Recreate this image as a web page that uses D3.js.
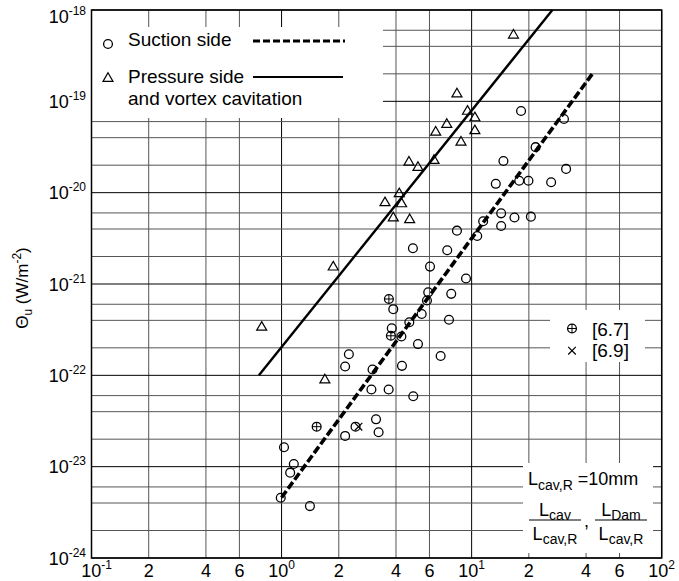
<!DOCTYPE html>
<html><head><meta charset="utf-8">
<script src="https://cdn.jsdelivr.net/npm/d3@7"></script>
<style>body{margin:0;background:#fff} svg{display:block;font-family:"Liberation Sans",Arial,sans-serif}</style>
</head><body><svg id="c" width="679" height="581"></svg>
<script>
// ---- data ----
const suctionX = [0.99,1.03,1.16,1.11,1.41,2.16,2.45,3.14,3.24,2.26,2.16,3.01,2.97,3.66,4.93,3.87,3.80,4.27,4.70,5.46,5.82,5.91,7.81,7.60,5.22,6.87,4.30,6.04,4.91,7.44,8.37,9.34,10.7,11.5,14.3,14.3,16.8,20.5,13.4,17.8,19.9,26.2,14.7,21.7,31.4,18.2,30.6];
const suctionY = [4.57e-24,1.63e-23,1.07e-23,8.6e-24,3.7e-24,2.17e-23,2.74e-23,3.3e-23,2.38e-23,1.7e-22,1.25e-22,1.16e-22,7.0e-23,7.0e-23,5.9e-23,5.3e-22,3.27e-22,2.66e-22,3.81e-22,4.69e-22,6.6e-22,8.1e-22,7.8e-22,4.06e-22,2.2e-22,1.63e-22,1.27e-22,1.55e-21,2.46e-21,2.34e-21,3.84e-21,1.15e-21,3.35e-21,4.86e-21,4.32e-21,5.94e-21,5.35e-21,5.46e-21,1.25e-20,1.35e-20,1.35e-20,1.30e-20,2.22e-20,3.15e-20,1.82e-20,7.84e-20,6.41e-20];
const pressureX = [0.786,1.69,1.87,3.50,3.87,4.16,4.28,4.72,4.68,5.22,6.34,6.47,7.40,8.37,8.79,9.51,10.4,10.4,16.6];
const pressureY = [3.4e-22,9.0e-23,1.55e-21,7.84e-21,5.35e-21,9.84e-21,7.64e-21,5.12e-21,2.18e-20,1.91e-20,2.28e-20,4.65e-20,5.65e-20,1.22e-19,3.61e-20,7.87e-20,6.68e-20,4.82e-20,5.37e-19];
const ref67X = [1.53,3.67,3.76];
const ref67Y = [2.74e-23,6.85e-22,2.71e-22];
const ref69X = [2.54];
const ref69Y = [2.74e-23];
const suctionFitX = [1.0,43.4];
const suctionFitY = [4.6e-24,2.03e-19];
const pressureFitX = [0.76,26.6];
const pressureFitY = [1e-22,1e-18];
const xTickVals = [0.1,0.2,0.4,0.6,1,2,4,6,10,20,40,60,100];
const xTickBase = ["10","2","4","6","10","2","4","6","10","2","4","6","10"];
const xTickExp  = ["-1","","","","0","","","","1","","","","2"];
const yTickVals = [1e-24,1e-23,1e-22,1e-21,1e-20,1e-19,1e-18];
const yTickExp  = ["-24","-23","-22","-21","-20","-19","-18"];
const gridMult = [2,4,6];

// ---- setup ----
const svg = d3.select('#c');
const x = d3.scaleLog().domain([0.1,100]).range([91.5,661.7]);
const y = d3.scaleLog().domain([1e-24,1e-18]).range([558,10]);
const [x0,x1] = x.range(), [y0,y1] = [y.range()[1], y.range()[0]];

// grid
const g = svg.append('g');
const xMajor = xTickVals.filter((d,i)=>xTickExp[i]!=="");
xMajor.slice(0,-1).forEach(dec=>{
  gridMult.forEach(m=>{
    g.append('line').attr('x1',x(dec*m)).attr('x2',x(dec*m)).attr('y1',y0).attr('y2',y1).attr('stroke','#555').attr('stroke-width',1);
  });
});
xMajor.forEach(v=>g.append('line').attr('x1',x(v)).attr('x2',x(v)).attr('y1',y0).attr('y2',y1).attr('stroke','#000').attr('stroke-width',1));
yTickVals.slice(0,-1).forEach(dec=>{
  gridMult.forEach(m=>{
    g.append('line').attr('y1',y(dec*m)).attr('y2',y(dec*m)).attr('x1',x0).attr('x2',x1).attr('stroke','#555').attr('stroke-width',1);
  });
});
yTickVals.forEach(v=>g.append('line').attr('y1',y(v)).attr('y2',y(v)).attr('x1',x0).attr('x2',x1).attr('stroke','#000').attr('stroke-width',1));

// white legend boxes
[[91.5,27,291.5,91],[550,310,95,52],[523,463,130,90]].forEach(b=>{
  svg.append('rect').attr('x',b[0]).attr('y',b[1]).attr('width',b[2]).attr('height',b[3]).attr('fill','#fff');
});

// frame
svg.append('rect').attr('x',x0).attr('y',y0).attr('width',x1-x0).attr('height',y1-y0).attr('fill','none').attr('stroke','#000').attr('stroke-width',1.5);

// fit lines
const line = d3.line().x(d=>x(d[0])).y(d=>y(d[1]));
svg.append('path').attr('d',line(pressureFitX.map((v,i)=>[v,pressureFitY[i]]))).attr('stroke','#000').attr('stroke-width',2.4).attr('fill','none');
svg.append('path').attr('d',line(suctionFitX.map((v,i)=>[v,suctionFitY[i]]))).attr('stroke','#000').attr('stroke-width',3.6).attr('stroke-dasharray','8,3').attr('fill','none');

// markers
function circ(cx,cy){svg.append('circle').attr('cx',cx).attr('cy',cy).attr('r',4.4).attr('fill','none').attr('stroke','#000').attr('stroke-width',1.3);}
function tri(cx,cy){svg.append('path').attr('d',`M${cx},${cy-5.2}L${cx+5},${cy+3.4}L${cx-5},${cy+3.4}Z`).attr('fill','none').attr('stroke','#000').attr('stroke-width',1.2);}
function oplus(cx,cy){circ(cx,cy);svg.append('path').attr('d',`M${cx-4.4},${cy}H${cx+4.4}M${cx},${cy-4.4}V${cy+4.4}`).attr('stroke','#000').attr('stroke-width',1);}
function cross(cx,cy){svg.append('path').attr('d',`M${cx-3.8},${cy-3.8}L${cx+3.8},${cy+3.8}M${cx+3.8},${cy-3.8}L${cx-3.8},${cy+3.8}`).attr('stroke','#000').attr('stroke-width',1.2);}
suctionX.forEach((v,i)=>circ(x(v),y(suctionY[i])));
pressureX.forEach((v,i)=>tri(x(v),y(pressureY[i])));
ref67X.forEach((v,i)=>oplus(x(v),y(ref67Y[i])));
ref69X.forEach((v,i)=>cross(x(v),y(ref69Y[i])));

// tick labels
const FS=18, SUP=12;
xTickVals.forEach((v,i)=>{
  const t=svg.append('text').attr('y',577).attr('font-size',FS).attr('text-anchor','middle')
    .attr('x',x(v)+(i===0?5:0));
  t.append('tspan').text(xTickBase[i]);
  if(xTickExp[i]!=="") t.append('tspan').attr('font-size',SUP).attr('dy',-8).text(xTickExp[i]);
});
yTickVals.forEach((v,i)=>{
  const t=svg.append('text').attr('x',86).attr('y',y(v)+6.5+(i===yTickVals.length-1?6.5:0)).attr('font-size',FS).attr('text-anchor','end');
  t.append('tspan').text("10");
  t.append('tspan').attr('font-size',SUP).attr('dy',-8).text(yTickExp[i]);
});

// y axis title
const yt=svg.append('text').attr('transform','translate(28,288) rotate(-90)').attr('text-anchor','middle').attr('font-size',17);
yt.append('tspan').text('Θ');
yt.append('tspan').attr('font-size',12).attr('dy',4).text('u');
yt.append('tspan').attr('dy',-4).text(' (W/m');
yt.append('tspan').attr('font-size',12).attr('dy',-7).text('-2');
yt.append('tspan').attr('dy',7).text(')');

// legend 1
circ(108,44);
svg.append('text').attr('x',128).attr('y',45.5).attr('font-size',FS+1).text('Suction side');
svg.append('line').attr('x1',253).attr('x2',345).attr('y1',41).attr('y2',41).attr('stroke','#000').attr('stroke-width',3).attr('stroke-dasharray','7,3');
tri(108,78);
svg.append('text').attr('x',128).attr('y',83).attr('font-size',FS+1).text('Pressure side');
svg.append('line').attr('x1',253).attr('x2',343).attr('y1',77).attr('y2',77).attr('stroke','#000').attr('stroke-width',2.2);
svg.append('text').attr('x',128).attr('y',105).attr('font-size',FS+1).text('and vortex cavitation');

// legend 2
oplus(572,328.5);
svg.append('text').attr('x',592).attr('y',335.5).attr('font-size',FS+1).text('[6.7]');
cross(572,350.7);
svg.append('text').attr('x',592).attr('y',357).attr('font-size',FS+1).text('[6.9]');

// legend 3
const l1=svg.append('text').attr('x',528).attr('y',485).attr('font-size',FS);
l1.append('tspan').text('L');
l1.append('tspan').attr('font-size',14).attr('dy',5).text('cav,R');
l1.append('tspan').attr('dy',-5).text(' =10mm');
function frac(cx,num,numSub,denSub){
  const n=svg.append('text').attr('x',cx).attr('y',516).attr('font-size',FS).attr('text-anchor','middle');
  n.append('tspan').text(num); n.append('tspan').attr('font-size',14).attr('dy',4).text(numSub);
  const d=svg.append('text').attr('x',cx).attr('y',540).attr('font-size',FS).attr('text-anchor','middle');
  d.append('tspan').text('L'); d.append('tspan').attr('font-size',14).attr('dy',4).text(denSub);
}
svg.append('line').attr('x1',529).attr('x2',581).attr('y1',520).attr('y2',520).attr('stroke','#000').attr('stroke-width',1.2);
svg.append('line').attr('x1',595).attr('x2',647).attr('y1',520).attr('y2',520).attr('stroke','#000').attr('stroke-width',1.2);
frac(555,'L','cav','cav,R');
frac(621,'L','Dam','cav,R');
svg.append('text').attr('x',584).attr('y',527).attr('font-size',FS).text(',');
</script></body></html>
